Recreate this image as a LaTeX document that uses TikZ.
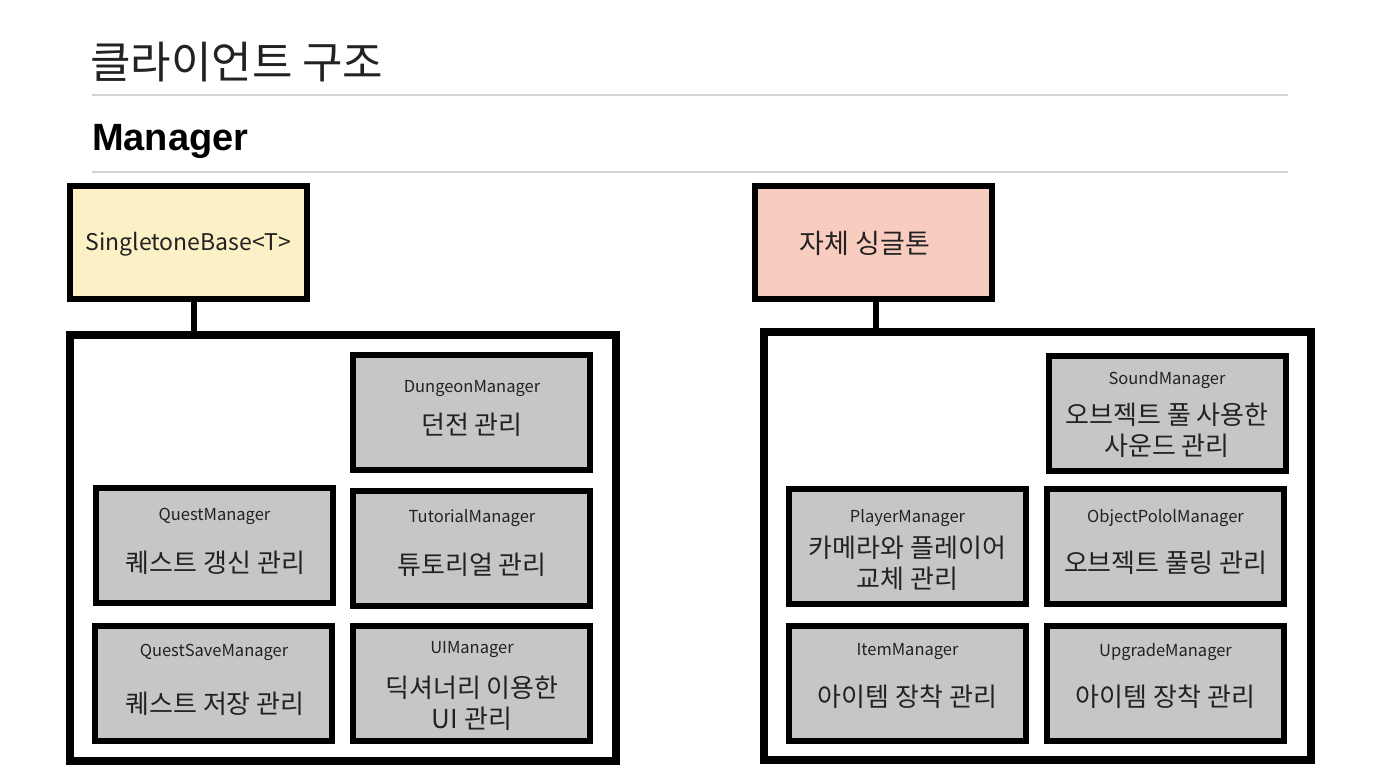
\documentclass[tikz,border=0pt]{standalone}
\usepackage{fontspec}
\setmainfont{Noto Sans CJK KR}
\newfontfamily\headfont{Liberation Sans}
\definecolor{ybox}{HTML}{FBF0C6}
\definecolor{sbox}{HTML}{F8CCBE}
\definecolor{gbox}{HTML}{C6C6C6}
\definecolor{rule}{HTML}{D4D4D4}
\definecolor{txt}{HTML}{222222}
\begin{document}
\begin{tikzpicture}[x=1pt,y=-1pt,
  topbox/.style={draw=black,line width=6pt,inner sep=0pt,minimum width=237pt,minimum height=113pt},
  bigbox/.style={draw=black,line width=8pt,fill=white,inner sep=0pt},
  mgrbox/.style={draw=black,line width=6pt,fill=gbox,inner sep=0pt,minimum width=237pt,minimum height=115pt},
  lbl/.style={text=txt,inner sep=0pt,font=\fontsize{16.5}{20}\selectfont},
  kor/.style={text=txt,inner sep=0pt,align=center,font=\fontsize{26}{31}\selectfont},
  conn/.style={draw=black,line width=6pt},
  hrule/.style={draw=rule,line width=1.5pt}]
\useasboundingbox (0,0) rectangle (1380,776);
\fill[white] (0,0) rectangle (1380,776);
% headings
\node[anchor=base west,inner sep=0pt,text=txt,font=\fontsize{44}{50}\selectfont] (title) at (90,78) {클라이언트 구조};
\coordinate (r1a) at (92,95); \coordinate (r1b) at (1288,95);
\draw[hrule] (r1a) -- (r1b);
\node[anchor=base west,inner sep=0pt,text=black,font=\headfont\bfseries\fontsize{38}{44}\selectfont] (mgr) at (92,150) {Manager};
\coordinate (r2a) at (92,172); \coordinate (r2b) at (1288,172);
\draw[hrule] (r2a) -- (r2b);
% left group
\node[topbox,fill=ybox] (yb) at (188.5,242.5) {};
\node[text=txt,inner sep=0pt,font=\fontsize{23}{28}\selectfont] (ybt) at (188.5,244) {SingletoneBase<T>};
\node[bigbox,minimum width=546pt,minimum height=426pt] (lbig) at (343,548) {};
\draw[conn] ([xshift=5pt]yb.south) -- ([xshift=5pt]yb.south |- lbig.north);
\node[mgrbox] (dun) at (471,412) {};
\node[lbl] (dunl) at (472,389) {DungeonManager};
\node[kor] (dunk) at (472,425) {던전 관리};
\node[mgrbox] (quest) at (214.5,545.5) {};
\node[lbl] (questl) at (214.5,516) {QuestManager};
\node[kor] (questk) at (215.5,563) {퀘스트 갱신 관리};
\node[mgrbox] (tut) at (471,548) {};
\node[lbl] (tutl) at (472,518) {TutorialManager};
\node[kor] (tutk) at (472,565) {튜토리얼 관리};
\node[mgrbox] (qsave) at (213,683) {};
\node[lbl] (qsavel) at (214,652) {QuestSaveManager};
\node[kor] (qsavek) at (215,704) {퀘스트 저장 관리};
\node[mgrbox] (ui) at (471,683) {};
\node[lbl] (uil) at (472,650) {UIManager};
\node[kor] (uik) at (472,703) {딕셔너리 이용한\\UI 관리};
% right group
\node[topbox,fill=sbox] (sb) at (873.5,242.5) {};
\node[text=txt,inner sep=0pt,font=\fontsize{27}{30}\selectfont] (sbt) at (865,243) {자체 싱글톤};
\node[bigbox,minimum width=547pt,minimum height=428pt] (rbig) at (1037.5,546) {};
\draw[conn] ([xshift=2.5pt]sb.south) -- ([xshift=2.5pt]sb.south |- rbig.north);
\node[mgrbox] (sound) at (1167,413) {};
\node[lbl] (soundl) at (1167,380) {SoundManager};
\node[kor] (soundk) at (1167,430) {오브젝트 풀 사용한\\사운드 관리};
\node[mgrbox] (player) at (907.5,546.5) {};
\node[lbl] (playerl) at (907.5,518) {PlayerManager};
\node[kor] (playerk) at (907.5,563) {카메라와 플레이어\\교체 관리};
\node[mgrbox] (objpool) at (1165.5,546.5) {};
\node[lbl] (objpooll) at (1165.5,518) {ObjectPololManager};
\node[kor] (objpoolk) at (1165.5,563) {오브젝트 풀링 관리};
\node[mgrbox] (item) at (907.5,683.5) {};
\node[lbl] (iteml) at (907.5,652) {ItemManager};
\node[kor] (itemk) at (907.5,697) {아이템 장착 관리};
\node[mgrbox] (upg) at (1165.5,683.5) {};
\node[lbl] (upgl) at (1165.5,652) {UpgradeManager};
\node[kor] (upgk) at (1165.5,697) {아이템 장착 관리};
\end{tikzpicture}
\end{document}
